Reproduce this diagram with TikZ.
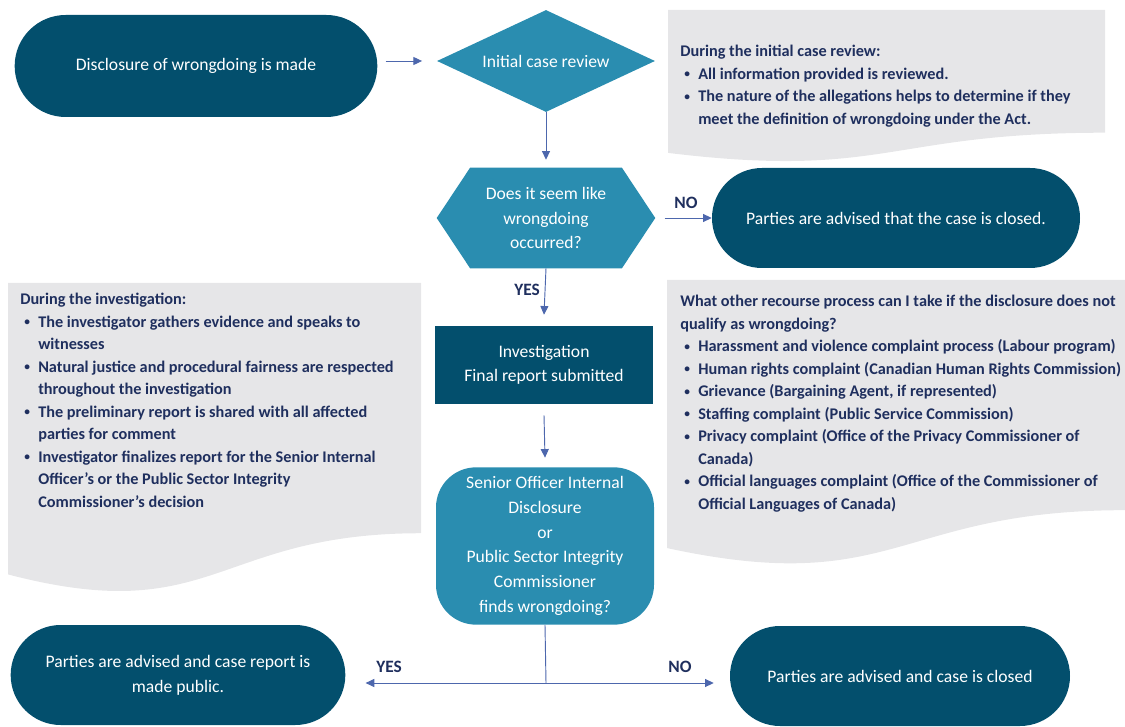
\documentclass[tikz,border=0pt]{standalone}
\usepackage{fontspec}
\setmainfont{Carlito}
\usetikzlibrary{shapes.geometric,shapes.misc,arrows.meta,positioning,backgrounds}

\definecolor{navybox}{HTML}{034F6D}
\definecolor{tealbox}{HTML}{2A8DB0}
\definecolor{greynote}{HTML}{E6E6E8}
\definecolor{notetext}{HTML}{1F2F5E}
\definecolor{flowline}{HTML}{4D67AD}

% bullet lines in the grey notes
\newcommand{\itm}{\hspace*{3pt}\makebox[10.5pt][l]{\raisebox{0.2ex}{\scalebox{0.7}{\textbullet}}}}
\newcommand{\cnt}{\hspace*{13.5pt}}
% grey note with a wavy bottom: x, y, width, height (px)
\newcommand{\wavebox}[4]{%
  \fill[greynote] (#1,#2) -- (#1+#3,#2) -- (#1+#3,#2+0.802*#4)
    .. controls (#1+0.5*#3,#2+0.802*#4) and (#1+0.5*#3,#2+1.107*#4) .. (#1,#2+0.934*#4) -- cycle;}

\begin{document}
\begin{tikzpicture}[x=0.75pt,y=-0.75pt,
    every node/.style={font=\fontsize{13.2}{18.5}\selectfont},
    stadium/.style={rounded rectangle, fill=navybox, text=white, align=center, inner sep=0pt},
    review/.style={diamond, aspect=2.14, fill=tealbox, text=white, inner sep=0pt},
    hexa/.style={rectangle, text=white, align=center, inner sep=0pt,
                 minimum width=163.5pt, minimum height=75pt},
    investbox/.style={rectangle, fill=navybox, text=white, align=center, inner sep=0pt},
    decide/.style={rectangle, rounded corners=30pt, fill=tealbox, text=white, align=center, inner sep=0pt},
    note/.style={anchor=north west, inner sep=0pt, align=left, text=notetext,
                 font=\fontsize{12.2}{16.9}\selectfont\bfseries},
    answer/.style={text=notetext, font=\fontsize{13}{15}\selectfont\bfseries},
    flow/.style={draw=flowline, line width=0.7pt, -{Triangle[length=6.5pt,width=6pt]}},
    plain/.style={draw=flowline, line width=0.7pt}]

\useasboundingbox (0,0) rectangle (1125,727);

% grey notes
\wavebox{668}{10}{437}{153}
\wavebox{8}{283}{413}{312}
\wavebox{667}{280}{458}{287}

\node[note] (revnote) at (680,45) {During the initial case review:\\
  \itm All information provided is reviewed.\\
  \itm The nature of the allegations helps to determine if they\\
  \cnt meet the definition of wrongdoing under the Act.};

\node[note] (invnote) at (20,293) {During the investigation:\\
  \itm The investigator gathers evidence and speaks to\\
  \cnt witnesses\\
  \itm Natural justice and procedural fairness are respected\\
  \cnt throughout the investigation\\
  \itm The preliminary report is shared with all affected\\
  \cnt parties for comment\\
  \itm Investigator finalizes report for the Senior Internal\\
  \cnt Officer's or the Public Sector Integrity\\
  \cnt Commissioner's decision};

\node[note] (othernote) at (680,295) {What other recourse process can I take if the disclosure does not\\
  qualify as wrongdoing?\\
  \itm Harassment and violence complaint process (Labour program)\\
  \itm Human rights complaint (Canadian Human Rights Commission)\\
  \itm Grievance (Bargaining Agent, if represented)\\
  \itm Staffing complaint (Public Service Commission)\\
  \itm Privacy complaint (Office of the Privacy Commissioner of\\
  \cnt Canada)\\
  \itm Official languages complaint (Office of the Commissioner of\\
  \cnt Official Languages of Canada)};

% flow
\node[stadium, minimum width=272pt, minimum height=76.5pt] (disclose) at (196,66) {Disclosure of wrongdoing is made};
\node[review, minimum width=163.5pt, minimum height=76.5pt] (initial) at (546,61) {Initial case review};
\node[hexa] (occur) at (546,218) {Does it seem like\\wrongdoing\\occurred?};
\begin{scope}[on background layer]
  \fill[tealbox] (occur.west) -- ([xshift=25pt]occur.north west) -- ([xshift=-25pt]occur.north east)
    -- (occur.east) -- ([xshift=-25pt]occur.south east) -- ([xshift=25pt]occur.south west) -- cycle;
\end{scope}
\node[stadium, minimum width=276pt, minimum height=75pt] (closedA) at (896,218) {Parties are advised that the case is closed.};
\node[investbox, minimum width=163.5pt, minimum height=59pt] (invest) at (544,365) {Investigation\\Final report submitted};
\node[decide, minimum width=163.5pt, minimum height=118pt] (finds) at (545,546)
  {Senior Officer Internal\\Disclosure\\or\\Public Sector Integrity\\Commissioner\\finds wrongdoing?};
\node[stadium, minimum width=251pt, minimum height=75pt] (public) at (178,675)
  {Parties are advised and case report is\\made public.};
\node[stadium, minimum width=255pt, minimum height=75pt] (closedB) at (900,676) {Parties are advised and case is closed};

\coordinate (split) at (546,683);

\draw[flow] ([xshift=6pt]disclose.east |- initial.west) -- ([xshift=-11pt]initial.west);
\draw[flow] (initial.south) -- ([yshift=6pt]occur.north);
\draw[flow] ([xshift=7pt]occur.east) -- (closedA.west);
\draw[flow] (occur.south) -- ([yshift=8pt]invest.north);
\draw[flow] ([yshift=-8pt]invest.south) -- ([yshift=7pt]finds.north);
\draw[plain] (finds.south) -- (split);
\draw[flow] (split) -- ([xshift=15pt]public.east |- split);
\draw[flow] (split) -- ([xshift=-12pt]closedB.west |- split);

\node[answer] (noA) at (686,203) {NO};
\node[answer] (yesA) at (527,290) {YES};
\node[answer] (yesB) at (389,667) {YES};
\node[answer] (noB) at (680,667) {NO};
\end{tikzpicture}
\end{document}
